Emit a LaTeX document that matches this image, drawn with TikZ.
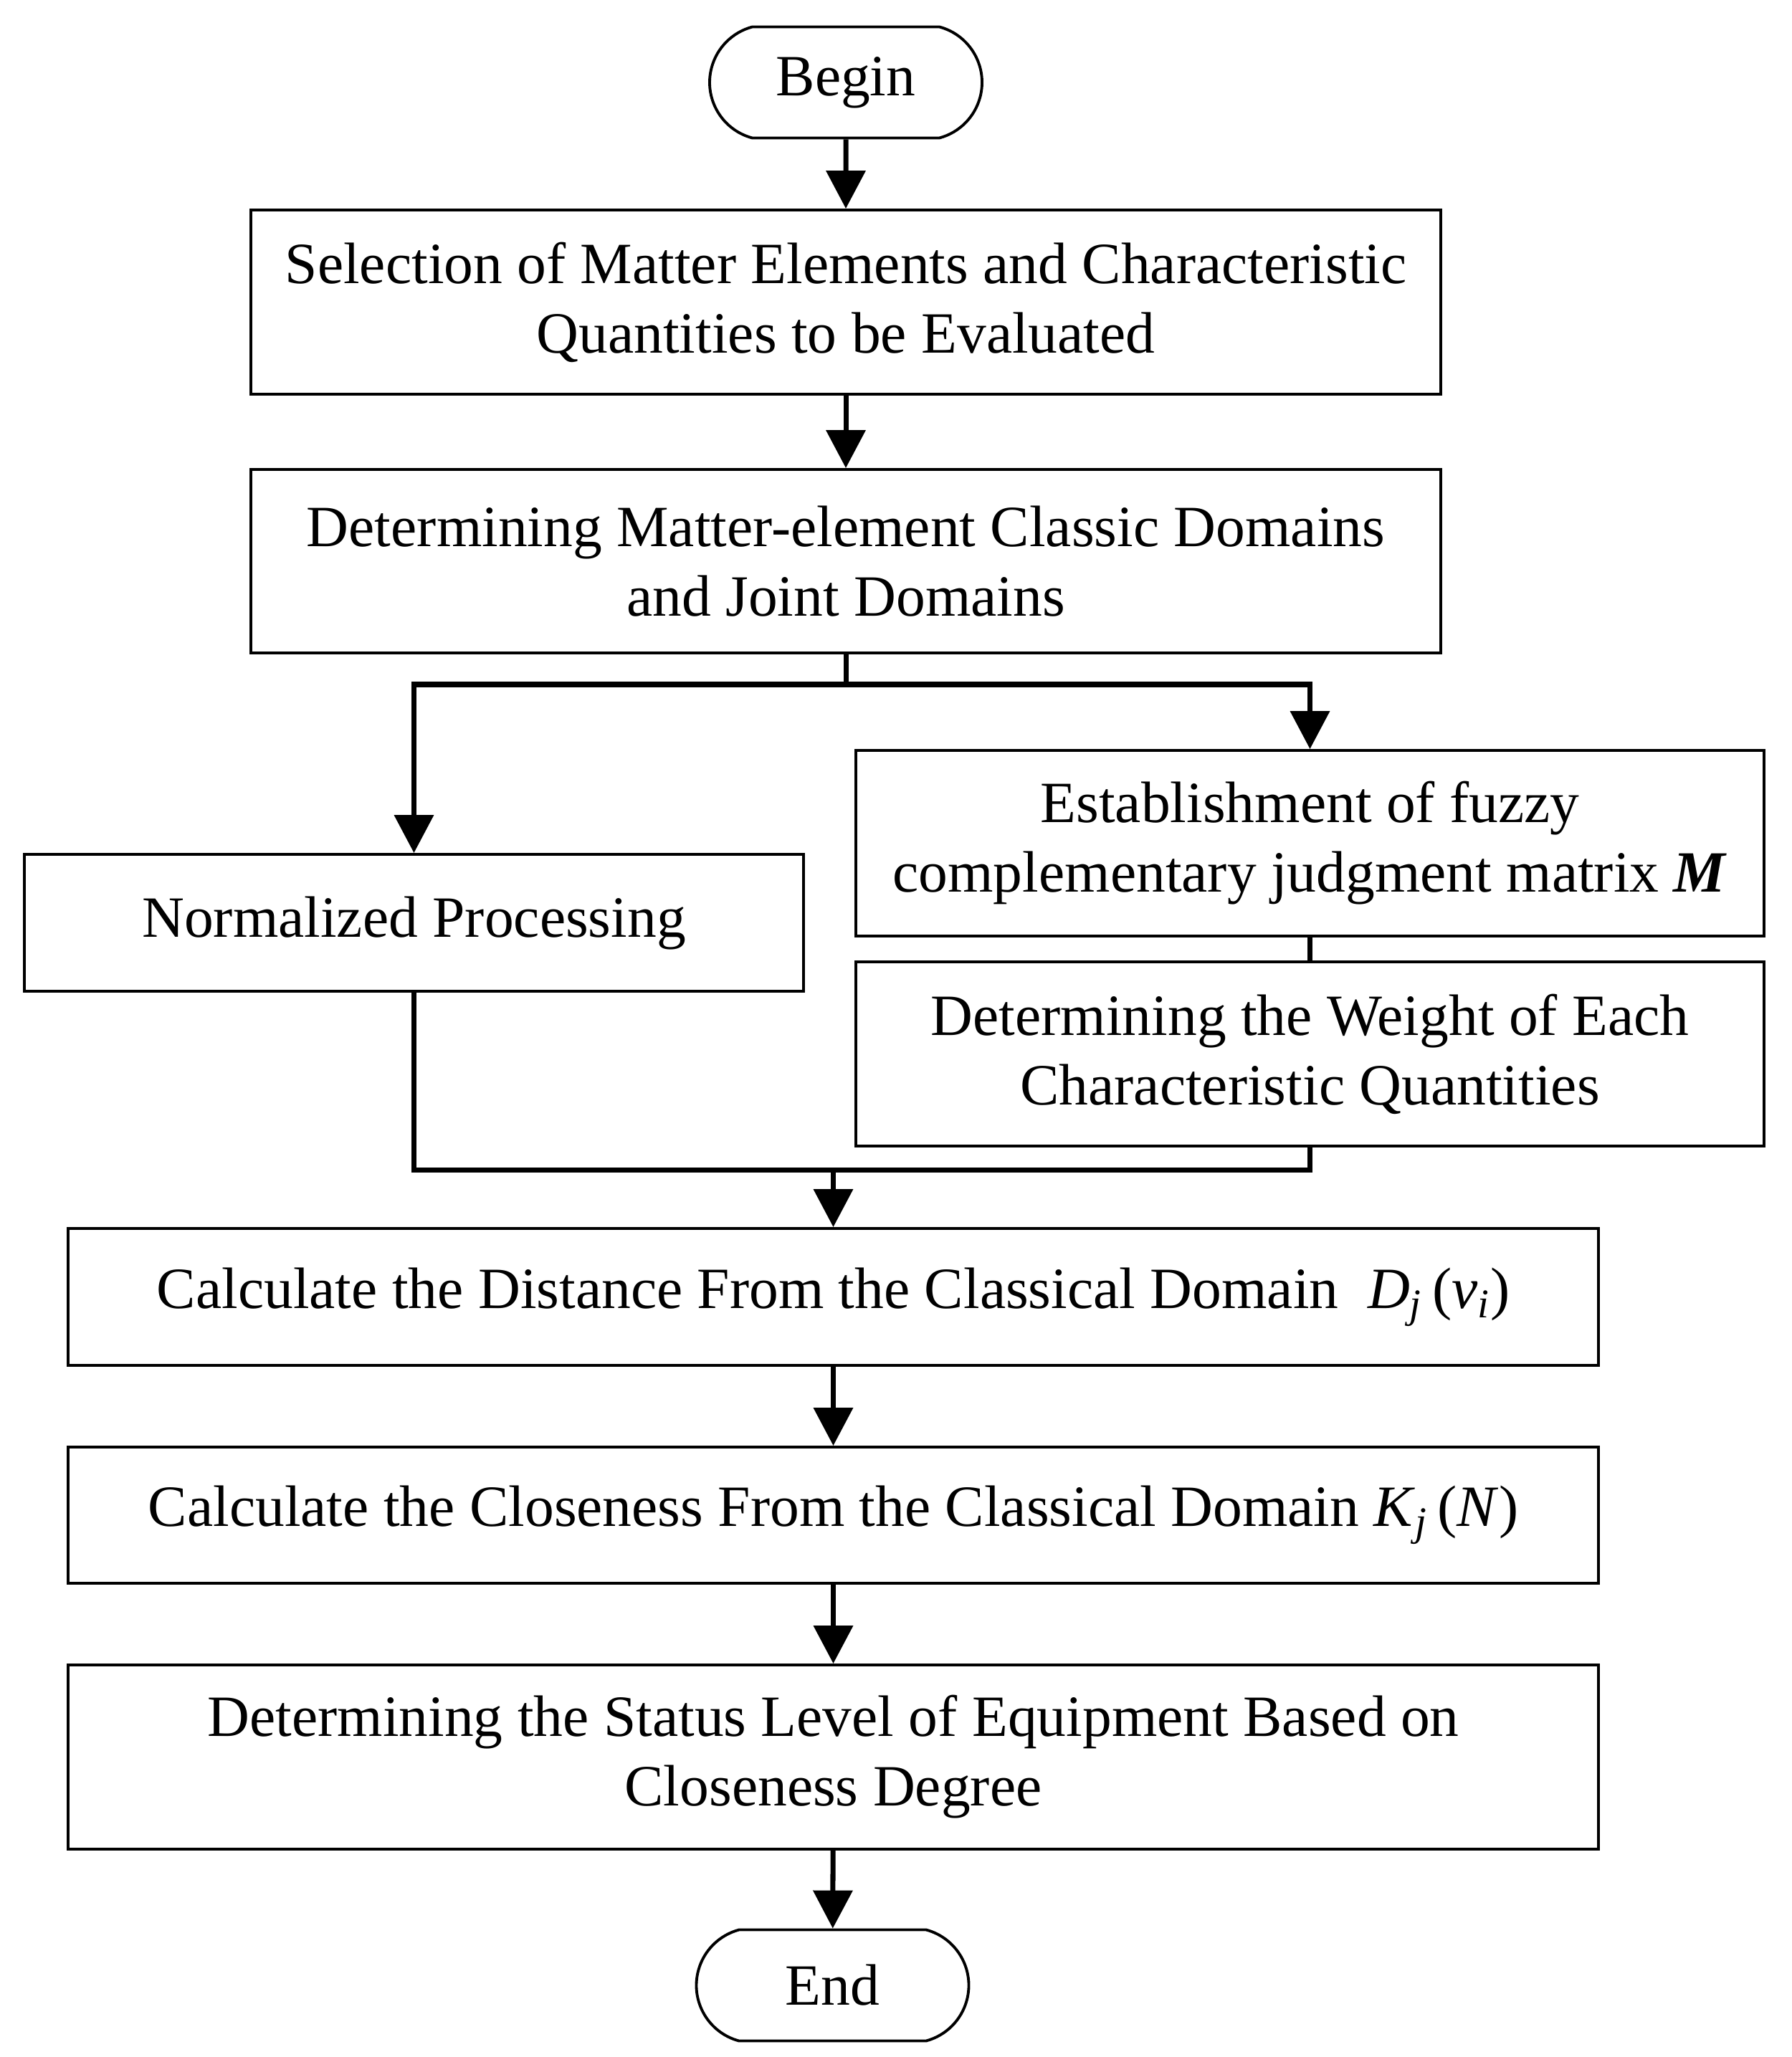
\documentclass[tikz,border=0pt]{standalone}
\usepackage{fontspec}
\setmainfont{Liberation Serif}
\usetikzlibrary{arrows.meta,shapes.misc}
\newcommand\VarSub[2]{\textit{#1}\textsubscript{\textit{#2}}}
\tikzset{
    stepbox/.style={draw, line width=1.1pt, align=center, inner sep=0pt,
        font=\fontsize{23.2}{27.6}\selectfont},
    startstop/.style={stepbox, rounded rectangle, rounded rectangle arc length=150,
        minimum width=3.8cm, minimum height=1.55cm},
    flowline/.style={line width=2pt, line join=miter},
    flowarrow/.style={flowline, -{Triangle[length=0.53cm,width=0.54cm]}},
}
\begin{document}
\begin{tikzpicture}
    \useasboundingbox (0,0) rectangle (24.99,-28.70);
    % upper column
    \node[startstop] (Begin) at (11.80,-1.15) {Begin};
    \node[stepbox, minimum width=16.6cm, minimum height=2.57cm] (Select) at (11.80,-4.215)
        {Selection of Matter Elements and Characteristic\\Quantities to be Evaluated};
    \node[stepbox, minimum width=16.6cm, minimum height=2.56cm] (Domains) at (11.80,-7.83)
        {Determining Matter-element Classic Domains\\and Joint Domains};
    % two branches
    \node[stepbox, minimum width=10.87cm, minimum height=1.91cm] (Normal) at (5.775,-12.875)
        {Normalized Processing};
    \node[stepbox, minimum width=12.67cm, minimum height=2.59cm] (Fuzzy) at (18.275,-11.765)
        {Establishment of fuzzy\\complementary judgment matrix \textbf{\textit{M}}};
    \node[stepbox, minimum width=12.67cm, minimum height=2.57cm] (Weight) at (18.275,-14.705)
        {Determining the Weight of Each\\Characteristic Quantities};
    % lower column
    \node[stepbox, minimum width=21.35cm, minimum height=1.91cm] (Distance) at (11.625,-18.095)
        {Calculate the Distance From the Classical Domain\ \ \VarSub{D}{j}\,(\VarSub{v}{i})};
    \node[stepbox, minimum width=21.35cm, minimum height=1.90cm] (Closeness) at (11.625,-21.14)
        {Calculate the Closeness From the Classical Domain \VarSub{K}{j}\,(\textit{N})};
    \node[stepbox, minimum width=21.35cm, minimum height=2.57cm] (Status) at (11.625,-24.515)
        {Determining the Status Level of Equipment Based on\\Closeness Degree};
    \node[startstop] (End) at (11.615,-27.70) {End};

    \coordinate (Split) at (11.80,-9.55);
    \coordinate (Merge) at (11.625,-16.32);

    \draw[flowarrow] (Begin) -- (Select);
    \draw[flowarrow] (Select) -- (Domains);
    \draw[flowline] (Domains.south) -- (Split);
    \draw[flowarrow] (Split) -| (Normal.north);
    \draw[flowarrow] (Split) -| (Fuzzy.north);
    \draw[flowline] (Fuzzy.south) -- (Weight.north);
    \draw[flowline] (Normal.south) |- (Merge) -| (Weight.south);
    \draw[flowarrow] (Merge) -- (Distance.north);
    \draw[flowarrow] (Distance) -- (Closeness);
    \draw[flowarrow] (Closeness) -- (Status);
    \draw[flowarrow] (Status) -- (End);
\end{tikzpicture}
\end{document}
